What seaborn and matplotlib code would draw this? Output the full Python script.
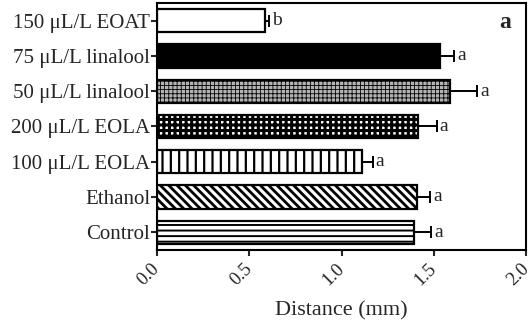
"""
Horizontal bar chart of distance (mm) per treatment, with SE bars
and significance letters. Saves out.png.
"""

import matplotlib
matplotlib.use('Agg')
import numpy as np
import pandas as pd
import matplotlib.pyplot as plt
import seaborn as sns

# ── Data (top to bottom) ───────────────────────────────
treatments = ['150 μL/L EOAT', '75 μL/L linalool', '50 μL/L linalool',
              '200 μL/L EOLA', '100 μL/L EOLA', 'Ethanol', 'Control']
distance   = [0.585, 1.535, 1.585, 1.415, 1.11, 1.41, 1.39]
error      = [0.02, 0.075, 0.15, 0.10, 0.06, 0.07, 0.095]
letters    = ['b', 'a', 'a', 'a', 'a', 'a', 'a']
x_ticks    = [0.0, 0.5, 1.0, 1.5, 2.0]
# ───────────────────────────────────────────────────────

faces    = ['white', 'black', '#b4b4b4', 'white', 'white', 'white', 'white']
hatches  = [None, None, '++++', '+++', '||', '\\\\\\\\', '---']
hatch_lw = [1.0, 1.0, 0.6, 2.2, 1.6, 2.0, 1.4]

sns.set_theme(style='ticks')
plt.rcParams['font.family'] = ['Liberation Serif', 'DejaVu Serif']
plt.rcParams['hatch.linewidth'] = 1.6

df = pd.DataFrame({'treatment': treatments, 'distance': distance})

fig = plt.figure(figsize=(5.31, 3.31), dpi=100)
ax = fig.add_axes([0.296, 0.245, 0.695, 0.746])

sns.barplot(data=df, x='distance', y='treatment', order=treatments,
            orient='h', width=0.66, color='white', edgecolor='black',
            linewidth=1.6, errorbar=None, ax=ax)

for bar, fc, h, hl in zip(ax.patches, faces, hatches, hatch_lw):
    bar.set_facecolor(fc)
    bar.set_edgecolor('black')
    if h:
        bar.set_hatch(h)
        if hasattr(bar, 'set_hatch_linewidth'):
            bar.set_hatch_linewidth(hl)

ypos = np.arange(len(treatments))
ax.errorbar(distance, ypos, xerr=[np.zeros(len(error)), error],
            fmt='none', ecolor='black', elinewidth=1.4, capsize=4.5,
            capthick=1.4)

for y, d, e, lab in zip(ypos, distance, error, letters):
    ax.text(d + e + 0.015, y, lab, va='center', ha='left', fontsize=14)

ax.text(0.96, 0.92, 'a', transform=ax.transAxes, ha='right', va='center',
        fontsize=17, fontweight='bold')

ax.set_xlim(0, 2.0)
ax.set_ylim(6.5, -0.5)
ax.set_xticks(x_ticks)
ax.set_xticklabels([f'{t:.1f}' for t in x_ticks], rotation=45,
                   ha='right', va='center', rotation_mode='anchor',
                   fontsize=13.5)
ax.tick_params(axis='y', labelsize=15, length=4, width=1.5, pad=1)
ax.tick_params(axis='x', length=4, width=1.5, pad=8)
ax.set_ylabel('')
ax.set_xlabel('Distance (mm)', fontsize=16, labelpad=9)

for side in ['top', 'right', 'left', 'bottom']:
    ax.spines[side].set_visible(True)
    ax.spines[side].set_linewidth(1.5)
    ax.spines[side].set_color('black')

fig.savefig('out.png', dpi=100, facecolor='white')
